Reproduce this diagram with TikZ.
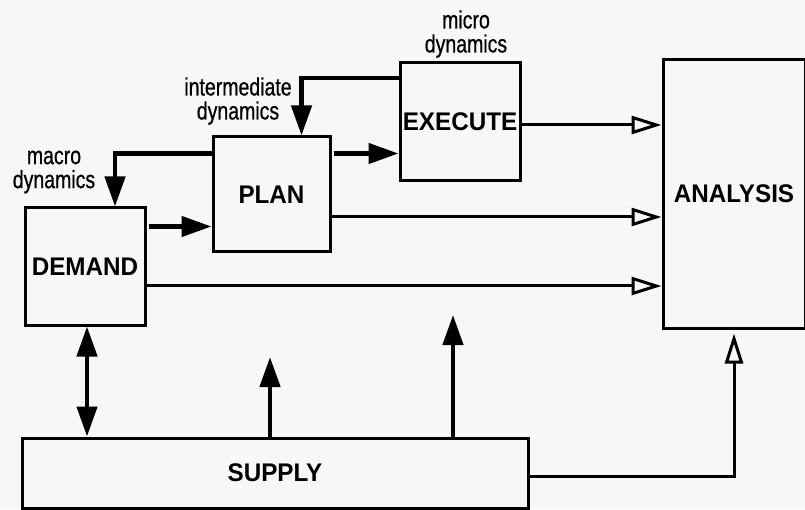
\documentclass[tikz,border=0pt]{standalone}
\usepackage{fontspec}
\setmainfont{Liberation Sans}
\newfontfamily\boxfont[FakeStretch=0.95]{Liberation Sans}
\newfontfamily\dynfont[FakeStretch=0.78, FakeBold=0.6]{Liberation Sans}
\usetikzlibrary{positioning, arrows.meta}
\usepackage{xcolor}
\definecolor{PaperGray}{HTML}{F7F7F7}

\begin{document}
\begin{tikzpicture}[x=1pt, y=1pt,
  blk/.style={rectangle, draw=black, line width=3pt, inner sep=0pt,
    font=\fontsize{25.5}{28}\selectfont\boxfont\bfseries},
  fat/.style={line width=4.5pt, -{Triangle[length=30pt,width=20pt]}},
  fatboth/.style={line width=4.5pt,
    {Triangle[length=30pt,width=20pt]}-{Triangle[length=30pt,width=20pt]}},
  hollow/.style={line width=3pt, -{Triangle[open,length=30pt,width=18pt]}},
  dyn/.style={font=\fontsize{25}{24}\selectfont\dynfont, align=center, inner sep=0pt}
]
  \fill[PaperGray] (0,0) rectangle (805,509);
  \useasboundingbox (0,0) rectangle (805,509);

  \node[blk, minimum width=120pt, minimum height=117pt] (demand)   at (85,242.5)  {DEMAND};
  \node[blk, minimum width=117pt, minimum height=115pt] (plan)     at (271.5,314.5) {PLAN};
  \node[blk, minimum width=120pt, minimum height=118pt] (execute)  at (460,387.5) {EXECUTE};
  \node[blk, minimum width=142pt, minimum height=268pt] (analysis) at (734,315)   {ANALYSIS};
  \node[blk, minimum width=506pt, minimum height=70pt]  (supply)   at (275,36)    {SUPPLY};

  \node[dyn] (macro) at (54,337)  {macro\\dynamics};
  \node[dyn] (inter) at (238,408) {intermediate\\dynamics};
  \node[dyn] (micro) at (466,475) {micro\\dynamics};

  \coordinate (dp) at ([yshift=-20pt]demand.north east);
  \coordinate (pe) at ([yshift=-18pt]plan.north east);
  \coordinate (pm) at ([yshift=-18pt]plan.north west);
  \coordinate (ei) at ([yshift=-17pt]execute.north west);
  \coordinate (ea) at ([yshift=-3.5pt]execute.east);
  \coordinate (pa) at ([yshift=-22.5pt]plan.east);
  \coordinate (da) at ([yshift=-19.5pt]demand.east);
  \coordinate (sa) at ([yshift=-3pt]supply.east);
  \coordinate (up1) at (270,152);
  \coordinate (up2) at (453,194);

  % forward flow
  \draw[fat, shorten <=2pt] (dp) -- (dp -| plan.west);
  \draw[fat, shorten <=2pt] (pe) -- (pe -| execute.west);
  % feedback loops
  \draw[fat] (pm) -| ([xshift=30pt]demand.north);
  \draw[fat] (ei) -| ([xshift=30pt]plan.north);
  % into analysis
  \draw[hollow] (ea) -- (ea -| analysis.west);
  \draw[hollow] (pa) -- (pa -| analysis.west);
  \draw[hollow] (da) -- (da -| analysis.west);
  \draw[hollow, shorten >=4pt] (sa) -| (analysis.south);
  % supply
  \draw[fatboth] ([xshift=2pt]demand.south) -- ([xshift=2pt]demand.south |- supply.north);
  \draw[fat] (supply.north -| up1) -- (up1);
  \draw[fat] (supply.north -| up2) -- (up2);
\end{tikzpicture}
\end{document}
